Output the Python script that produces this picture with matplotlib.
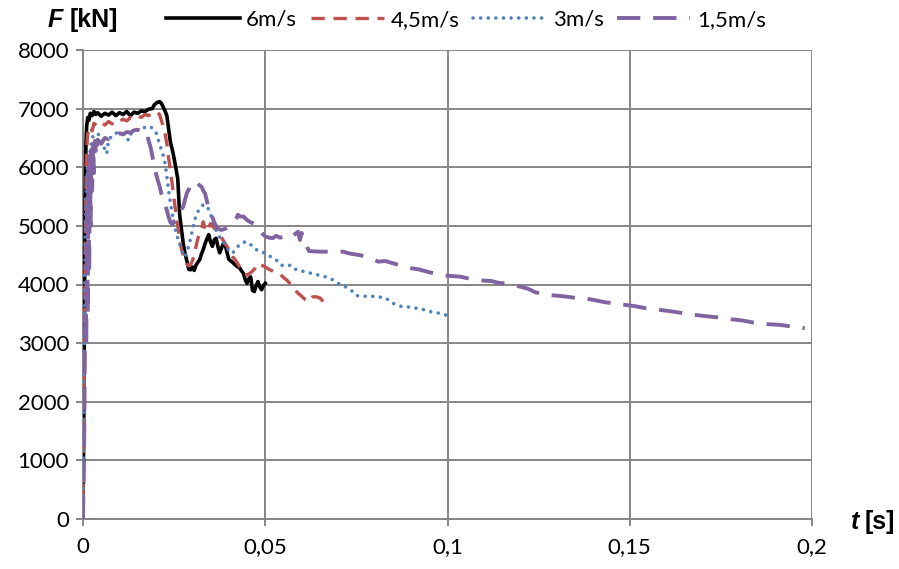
import matplotlib
matplotlib.use("Agg")
import matplotlib.pyplot as plt
from matplotlib.ticker import FuncFormatter, FixedLocator

plt.rcParams['font.family'] = ['Lato', 'DejaVu Sans']

# ---------------- data ----------------
labels = ["6m/s", "4,5m/s", "3m/s", "1,5m/s"]

t6 = [0, 0.0002, 0.0004, 0.0006, 0.0008, 0.001, 0.0013, 0.0016, 0.002, 0.0025,
      0.003, 0.0035, 0.004, 0.005, 0.006, 0.007, 0.008, 0.009, 0.010, 0.011,
      0.012, 0.013, 0.014, 0.015, 0.016, 0.017, 0.018, 0.019, 0.0195, 0.020,
      0.0205, 0.021, 0.0215, 0.022, 0.0225, 0.023, 0.0235, 0.024, 0.0245, 0.025,
      0.0255, 0.026, 0.0265, 0.027, 0.0275, 0.028, 0.0285, 0.029, 0.0295, 0.030,
      0.0305, 0.031, 0.0315, 0.032, 0.0325, 0.033, 0.0335, 0.034, 0.0345, 0.035,
      0.0355, 0.036, 0.0365, 0.037, 0.0375, 0.038, 0.0385, 0.039, 0.0395, 0.040,
      0.041, 0.042, 0.043, 0.0435, 0.044, 0.0445, 0.045, 0.0455, 0.046, 0.0465,
      0.047, 0.0475, 0.048, 0.0485, 0.049, 0.0495, 0.050]
F6 = [0, 1500, 3500, 5500, 6400, 6700, 6850, 6800, 6920, 6880,
      6950, 6900, 6930, 6870, 6920, 6890, 6940, 6880, 6930, 6900,
      6950, 6880, 6940, 6920, 6960, 6950, 6990, 7000, 7060, 7090,
      7110, 7120, 7090, 7030, 6960, 6880, 6650, 6420, 6300, 6150,
      5980, 5800, 5200, 4950, 4700, 4530, 4400, 4260, 4250, 4300,
      4240, 4330, 4380, 4420, 4520, 4600, 4700, 4780, 4850, 4720,
      4650, 4760, 4790, 4650, 4540, 4620, 4700, 4680, 4550, 4430,
      4380, 4320, 4280, 4230, 4190, 4080, 4020, 4100, 4130, 3900,
      3880, 3980, 4050, 3960, 3910, 3980, 4020]

t45 = [0, 0.0003, 0.0006, 0.0009, 0.0012, 0.0015, 0.002, 0.0025, 0.003, 0.004,
       0.005, 0.006, 0.007, 0.008, 0.009, 0.010, 0.011, 0.012, 0.013, 0.014,
       0.015, 0.016, 0.017, 0.018, 0.019, 0.020, 0.0205, 0.021, 0.0215, 0.022,
       0.0225, 0.023, 0.0235, 0.024, 0.0245, 0.025, 0.0255, 0.026, 0.0265, 0.027,
       0.0275, 0.028, 0.0285, 0.029, 0.0295, 0.030, 0.0305, 0.031, 0.0315, 0.032,
       0.0325, 0.033, 0.0335, 0.034, 0.0345, 0.035, 0.0355, 0.036, 0.037, 0.038,
       0.039, 0.040, 0.041, 0.042, 0.043, 0.044, 0.045, 0.046, 0.047, 0.048,
       0.049, 0.050, 0.051, 0.052, 0.053, 0.054, 0.055, 0.056, 0.057, 0.058,
       0.059, 0.060, 0.061, 0.062, 0.063, 0.064, 0.065, 0.0655, 0.066, 0.0665]
F45 = [0, 2000, 4500, 6100, 6500, 6650, 6700, 6620, 6750, 6700,
       6760, 6720, 6780, 6740, 6800, 6780, 6820, 6790, 6850, 6820,
       6870, 6850, 6900, 6880, 6930, 6950, 6930, 6900, 6800, 6700,
       6580, 6400, 6150, 5950, 5700, 5450, 5200, 5000, 4780, 4600,
       4500, 4420, 4350, 4320, 4340, 4400, 4500, 4650, 4780, 4880,
       4950, 5070, 4930, 4900, 4980, 5040, 5000, 4960, 4920, 4800,
       4700, 4600, 4480, 4400, 4300, 4230, 4160, 4200, 4260, 4360,
       4330, 4300, 4260, 4230, 4200, 4180, 4120, 4070, 4000, 3920,
       3850, 3800, 3740, 3710, 3790, 3790, 3770, 3740, 3680, 3640]

t3 = [0, 0.0003, 0.0006, 0.0009, 0.0012, 0.0014, 0.0016, 0.002, 0.0025, 0.003,
      0.004, 0.005, 0.006, 0.0065, 0.007, 0.008, 0.009, 0.010, 0.011, 0.012,
      0.0125, 0.013, 0.014, 0.015, 0.016, 0.017, 0.018, 0.019, 0.020, 0.021,
      0.022, 0.0225, 0.023, 0.0235, 0.024, 0.0245, 0.025, 0.0255, 0.026, 0.0265,
      0.027, 0.0275, 0.028, 0.0285, 0.029, 0.0295, 0.030, 0.0305, 0.031, 0.032,
      0.033, 0.034, 0.035, 0.036, 0.037, 0.038, 0.039, 0.040, 0.041, 0.042,
      0.043, 0.044, 0.045, 0.046, 0.047, 0.048, 0.049, 0.050, 0.051, 0.052,
      0.053, 0.054, 0.055, 0.056, 0.057, 0.058, 0.059, 0.060, 0.062, 0.064,
      0.066, 0.068, 0.070, 0.072, 0.074, 0.075, 0.077, 0.079, 0.081, 0.083,
      0.085, 0.087, 0.089, 0.091, 0.093, 0.095, 0.097, 0.099, 0.100]
F3 = [0, 2500, 4800, 5600, 6000, 5300, 6100, 6300, 6500, 6550,
      6580, 6500, 6300, 6230, 6450, 6550, 6580, 6600, 6580, 6500,
      6460, 6560, 6620, 6640, 6660, 6680, 6700, 6670, 6600, 6400,
      6200, 6070, 5850, 5600, 5380, 5200, 5050, 4900, 4790, 4700,
      4600, 4530, 4470, 4560, 4650, 4780, 4920, 5050, 5180, 5300,
      5360, 5340, 5200, 5000, 4850, 4760, 4680, 4580, 4530, 4620,
      4680, 4720, 4730, 4680, 4610, 4580, 4560, 4530, 4490, 4460,
      4420, 4340, 4320, 4320, 4330, 4270, 4240, 4230, 4200, 4170,
      4140, 4100, 4020, 3960, 3880, 3810, 3800, 3800, 3790, 3770,
      3680, 3630, 3620, 3600, 3580, 3540, 3520, 3490, 3470]

t15 = [0, 0.0003, 0.0005, 0.0007, 0.0009, 0.0011, 0.0013, 0.0015, 0.0017, 0.0019,
       0.0021, 0.0023, 0.0025, 0.0028, 0.003, 0.0033, 0.0036, 0.004, 0.005, 0.006,
       0.007, 0.008, 0.009, 0.010, 0.011, 0.012, 0.013, 0.014, 0.015, 0.016,
       0.017, 0.0175, 0.018, 0.0185, 0.019, 0.0195, 0.020, 0.0205, 0.021, 0.0215,
       0.022, 0.0225, 0.023, 0.0235, 0.024, 0.0245, 0.025, 0.0255, 0.026, 0.027,
       0.0275, 0.028, 0.0285, 0.029, 0.0295, 0.030, 0.0305, 0.031, 0.0315, 0.032,
       0.0325, 0.033, 0.0335, 0.034, 0.0345, 0.035, 0.0355, 0.036, 0.0365, 0.037,
       0.0375, 0.038, 0.039, 0.040, 0.041, 0.042, 0.0425, 0.043, 0.044, 0.045,
       0.046, 0.047, 0.048, 0.049, 0.050, 0.051, 0.052, 0.053, 0.054, 0.055,
       0.056, 0.057, 0.058, 0.059, 0.0595, 0.060, 0.061, 0.062, 0.065, 0.068,
       0.0714, 0.073, 0.076, 0.078, 0.081, 0.083, 0.0851, 0.087, 0.0897, 0.092,
       0.0943, 0.097, 0.0998, 0.1034, 0.106, 0.1098, 0.112, 0.1139, 0.117, 0.1199,
       0.122, 0.124, 0.1267, 0.130, 0.133, 0.1359, 0.138, 0.140, 0.143, 0.1464,
       0.149, 0.151, 0.154, 0.1569, 0.161, 0.1647, 0.167, 0.1702, 0.174, 0.1766,
       0.179, 0.1811, 0.184, 0.1866, 0.189, 0.1912, 0.195, 0.198]
F15 = [0, 1200, 2800, 3600, 2950, 5400, 3500, 6000, 4200, 6200,
       5000, 6300, 5600, 6400, 5900, 6450, 6200, 6470, 6400, 6500,
       6480, 6550, 6520, 6580, 6560, 6600, 6590, 6630, 6640, 6620,
       6620, 6610, 6450, 6350, 6200, 6050, 5900, 5780, 5680, 5550,
       5450, 5350, 5270, 5150, 5060, 5030, 5080, 5100, 5150, 5280,
       5330, 5450, 5560, 5620, 5700, 5740, 5760, 5740, 5720, 5690,
       5670, 5600, 5550, 5420, 5300, 5250, 5150, 5060, 5000, 4960,
       4940, 4930, 4950, 4990, 5050, 5120, 5190, 5160, 5160, 5100,
       5060, 5040, 4950, 4880, 4820, 4800, 4790, 4830, 4800, 4810,
       4780, 4800, 4850, 4900, 4760, 4880, 4700, 4570, 4560, 4560,
       4560, 4530, 4500, 4470, 4390, 4400, 4360, 4330, 4280, 4260,
       4220, 4180, 4150, 4135, 4100, 4067, 4060, 4030, 4010, 3964,
       3930, 3870, 3822, 3810, 3790, 3765, 3760, 3737, 3700, 3669,
       3650, 3635, 3600, 3578, 3545, 3510, 3490, 3464, 3440, 3413,
       3400, 3384, 3350, 3328, 3320, 3311, 3280, 3254]

x_ticks = [0, 0.05, 0.1, 0.15, 0.2]
x_tick_labels = ["0", "0,05", "0,1", "0,15", "0,2"]
y_ticks = [0, 1000, 2000, 3000, 4000, 5000, 6000, 7000, 8000]

# ---------------- figure ----------------
W, H = 899, 569
fig = plt.figure(figsize=(W / 100, H / 100), dpi=100)
ax = fig.add_axes([83 / W, 1 - 519 / H, (812 - 83) / W, (519 - 50) / H])

grid_c = "#868686"
c_black = "#000000"
c_red = "#C0504D"
c_blue = "#4F81BD"
c_purple = "#8064A2"

l1, = ax.plot(t6, F6, color=c_black, lw=2.6, solid_joinstyle="round", zorder=3)
l2, = ax.plot(t45, F45, color=c_red, lw=2.4, linestyle=(0, (4.0, 2.6)), zorder=4)
l3, = ax.plot(t3, F3, color=c_blue, lw=2.6, linestyle=(0, (0.01, 2.1)),
              dash_capstyle="round", zorder=5)
l4, = ax.plot(t15, F15, color=c_purple, lw=2.8, linestyle=(0, (6.0, 3.3)), zorder=6)

ax.set_xlim(0, 0.2)
ax.set_ylim(0, 8000)
ax.xaxis.set_major_locator(FixedLocator(x_ticks))
ax.set_xticklabels(x_tick_labels)
ax.yaxis.set_major_locator(FixedLocator(y_ticks))
ax.yaxis.set_major_formatter(FuncFormatter(lambda v, p: f"{int(v)}"))

ax.grid(True, color=grid_c, lw=1.4, zorder=0)
ax.set_axisbelow(True)
for s in ["top", "right"]:
    ax.spines[s].set_visible(False)
for s in ["left", "bottom"]:
    ax.spines[s].set_color(grid_c)
    ax.spines[s].set_linewidth(1.4)
ax.tick_params(axis="both", colors=grid_c, length=5, width=1.4, labelsize=16,
               labelcolor="black")
ax.tick_params(axis="y", pad=5)
ax.tick_params(axis="x", pad=8)

# axis titles
title_font = ['Liberation Sans', 'DejaVu Sans']
fig.text(63 / W, 1 - 20 / H, "F", fontsize=18, fontweight="bold", fontstyle="italic",
         family=title_font, ha="right", va="center")
fig.text(70 / W, 1 - 20 / H, "[kN]", fontsize=18, fontweight="bold",
         family=title_font, ha="left", va="center")
fig.text(859 / W, 1 - 522 / H, "t", fontsize=18, fontweight="bold", fontstyle="italic",
         family=title_font, ha="right", va="center")
fig.text(865 / W, 1 - 522 / H, "[s]", fontsize=18, fontweight="bold",
         family=title_font, ha="left", va="center")

fig.legend([l1, l2, l3, l4], labels, loc="center", bbox_to_anchor=(466 / W, 1 - 20 / H),
           ncol=4, frameon=False, fontsize=16, handlelength=3.3, handletextpad=0.3,
           columnspacing=0.6, borderaxespad=0)

fig.savefig("out.png", dpi=100)
